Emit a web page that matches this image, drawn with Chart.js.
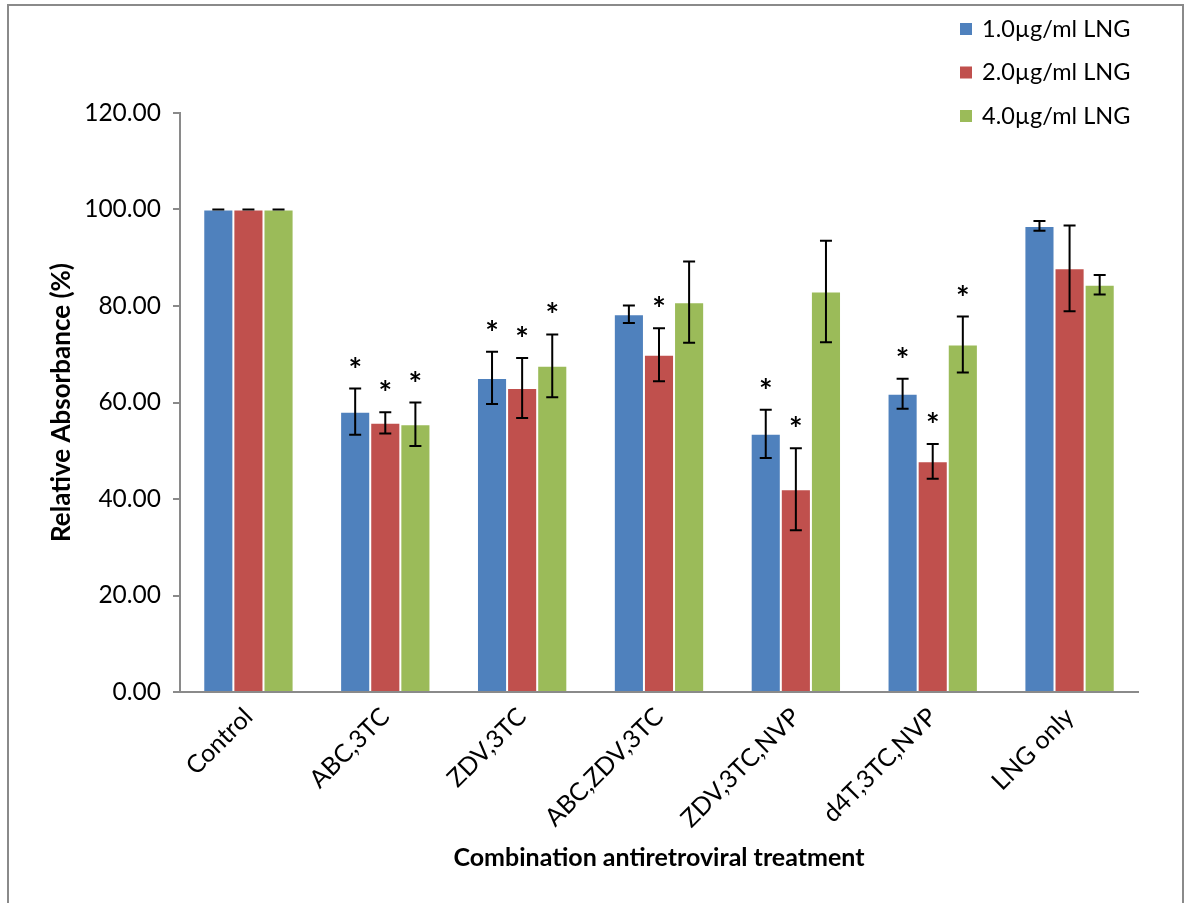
<!DOCTYPE html>
<html>
<head>
<meta charset="utf-8">
<script src="https://cdn.jsdelivr.net/npm/chart.js@4.4.1/dist/chart.umd.min.js"></script>
<style>
  html, body { margin: 0; padding: 0; background: #ffffff; }
  #wrap { width: 1186px; height: 903px; position: relative; }
</style>
</head>
<body>
<div id="wrap"><canvas id="c" width="1186" height="903"></canvas></div>
<script>
// ---- Data ----
const categories = ["Control", "ABC,3TC", "ZDV,3TC", "ABC,ZDV,3TC", "ZDV,3TC,NVP", "d4T,3TC,NVP", "LNG only"];
const seriesLabels = ["1.0\u00b5g/ml LNG", "2.0\u00b5g/ml LNG", "4.0\u00b5g/ml LNG"];
const values1 = [100.0, 58.1, 65.1, 78.3, 53.5, 61.8, 96.6];
const values2 = [100.0, 55.8, 63.0, 69.9, 42.0, 47.8, 87.8];
const values4 = [100.0, 55.5, 67.6, 80.8, 83.0, 72.0, 84.4];
const errors1 = [0.0, 4.8, 5.4, 1.8, 5.0, 3.1, 1.0];
const errors2 = [0.0, 2.2, 6.2, 5.5, 8.5, 3.6, 8.9];
const errors4 = [0.0, 4.5, 6.5, 8.4, 10.5, 5.8, 2.0];
const signif1 = [false, true, true, false, true, true, false];
const signif2 = [false, true, true, true, true, true, false];
const signif4 = [false, true, true, false, false, true, false];
const yTicks = [0, 20, 40, 60, 80, 100, 120];

const colors = ["#4F81BD", "#C0504D", "#9BBB59"];
const FONT = "Lato, 'Open Sans', sans-serif";

const errorSets = [errors1, errors2, errors4];
const signifSets = [signif1, signif2, signif4];

// Outer border plugin
const borderPlugin = {
  id: 'outerBorder',
  beforeDraw(chart) {
    const ctx = chart.ctx;
    ctx.save();
    ctx.fillStyle = '#ffffff';
    ctx.fillRect(0, 0, chart.width, chart.height);
    ctx.strokeStyle = '#8a8a8a';
    ctx.lineWidth = 2;
    ctx.strokeRect(8, 5, 1175, 920);
    ctx.restore();
  }
};

// Error bars + significance asterisks
const errorPlugin = {
  id: 'errorBars',
  afterDatasetsDraw(chart) {
    const ctx = chart.ctx;
    const y = chart.scales.y;
    ctx.save();
    ctx.strokeStyle = '#000000';
    ctx.lineWidth = 2;
    ctx.font = "bold 32px " + FONT;
    const m = ctx.measureText('*');
    const glyphMid = (m.actualBoundingBoxAscent - m.actualBoundingBoxDescent) / 2;
    chart.data.datasets.forEach((ds, di) => {
      const meta = chart.getDatasetMeta(di);
      meta.data.forEach((bar, i) => {
        const v = ds.data[i];
        const e = errorSets[di][i];
        const x = bar.x;
        const yTop = y.getPixelForValue(v + e);
        const yBot = y.getPixelForValue(v - e);
        const cap = 6;
        ctx.beginPath();
        ctx.moveTo(x, yTop); ctx.lineTo(x, yBot);
        ctx.moveTo(x - cap, yTop); ctx.lineTo(x + cap, yTop);
        ctx.moveTo(x - cap, yBot); ctx.lineTo(x + cap, yBot);
        ctx.stroke();
        if (signifSets[di][i]) {
          ctx.fillStyle = '#000000';
          ctx.textAlign = 'center';
          ctx.textBaseline = 'alphabetic';
          ctx.fillText('*', x, yTop - 27 + glyphMid);
        }
      });
    });
    ctx.restore();
  }
};

// Custom legend at top right
const legendPlugin = {
  id: 'customLegend',
  afterDraw(chart) {
    const ctx = chart.ctx;
    ctx.save();
    ctx.font = "23.5px " + FONT;
    ctx.textBaseline = 'middle';
    ctx.textAlign = 'left';
    chart.data.datasets.forEach((ds, i) => {
      const cy = 29 + i * 43.5;
      ctx.fillStyle = ds.backgroundColor;
      ctx.fillRect(960, cy - 6, 12, 12);
      ctx.fillStyle = '#000000';
      ctx.fillText(ds.label, 982, cy);
    });
    ctx.restore();
  }
};

new Chart(document.getElementById('c'), {
  type: 'bar',
  data: {
    labels: categories,
    datasets: [
      { label: seriesLabels[0], data: values1, backgroundColor: colors[0], borderColor: 'rgba(255,255,255,0.35)', borderWidth: 1 },
      { label: seriesLabels[1], data: values2, backgroundColor: colors[1], borderColor: 'rgba(255,255,255,0.35)', borderWidth: 1 },
      { label: seriesLabels[2], data: values4, backgroundColor: colors[2], borderColor: 'rgba(255,255,255,0.35)', borderWidth: 1 }
    ]
  },
  options: {
    responsive: false,
    animation: false,
    devicePixelRatio: 1,
    layout: { padding: { left: 44, right: 48, top: 113, bottom: 26 } },
    datasets: { bar: { categoryPercentage: 0.66, barPercentage: 1.0 } },
    plugins: {
      legend: { display: false },
      tooltip: { enabled: false }
    },
    scales: {
      x: {
        grid: { display: false, drawTicks: false },
        border: { color: '#8a8a8a', width: 2 },
        ticks: {
          color: '#000000',
          font: { family: FONT, size: 25 },
          maxRotation: 45, minRotation: 45,
          padding: 10,
          autoSkip: false
        },
        title: {
          display: true,
          text: 'Combination antiretroviral treatment',
          color: '#000000',
          font: { family: FONT, size: 25, weight: 'bold' },
          padding: { top: 0, bottom: 4 }
        },
        afterFit(scale) { scale.height = 692 - 113 > 0 ? 903 - 26 - 692 : 180; }
      },
      y: {
        min: 0, max: 120,
        afterBuildTicks(scale) { scale.ticks = yTicks.map(v => ({ value: v })); },
        grid: { display: true, drawOnChartArea: false, drawTicks: true, tickLength: 7, color: '#8a8a8a', lineWidth: 2 },
        border: { color: '#8a8a8a', width: 2 },
        ticks: {
          color: '#000000',
          font: { family: FONT, size: 24.5 },
          padding: 12,
          callback: (v) => Number(v).toFixed(2)
        },
        title: {
          display: true,
          text: 'Relative Absorbance (%)',
          color: '#000000',
          font: { family: FONT, size: 26, weight: 'bold' },
          padding: { top: 2, bottom: 0 }
        },
        afterFit(scale) { scale.width = 180 - 44; }
      }
    }
  },
  plugins: [borderPlugin, errorPlugin, legendPlugin]
});
</script>
</body>
</html>
